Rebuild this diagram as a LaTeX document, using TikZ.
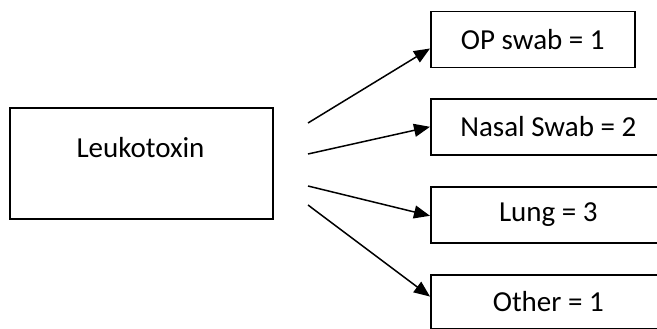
\documentclass[tikz,border=0pt]{standalone}
\usepackage{fontspec}
\setmainfont{Carlito}
\usetikzlibrary{arrows.meta}

\begin{document}
\begin{tikzpicture}[x=1pt,y=-1pt,
  box/.style={draw,line width=1.6pt,anchor=north west,inner sep=0pt,minimum height=56,font=\fontsize{29}{34}\selectfont},
  arr/.style={line width=1.5pt,-{Triangle[length=16pt,width=13pt]}}]
\clip (0,0) rectangle (657,329);
% source box
\node[box,minimum width=263,minimum height=111] (leuko) at (9,107) {};
\node[font=\fontsize{29}{34}\selectfont] (leukotxt) at (140.5,148) {Leukotoxin};
% sample boxes
\node[box,minimum width=204] (op) at (430,10.7) {OP swab = 1};
\node[box,minimum width=235] (nasal) at (430,98) {Nasal Swab = 2};
\node[box,minimum width=235] (lung) at (430,186) {Lung = 3};
\node[box,minimum width=235,minimum height=53.5] (other) at (430,274) {Other = 1};
% arrows
\coordinate (s1) at (308,123);
\coordinate (s2) at (308,154);
\coordinate (s3) at (308,186);
\coordinate (s4) at (308,205);
\draw[arr] (s1) -- ([yshift=-9pt]op.west);
\draw[arr] (s2) -- (nasal.west);
\draw[arr] (s3) -- ([yshift=-1pt]lung.west);
\draw[arr] (s4) -- ([yshift=5pt]other.west);
\end{tikzpicture}
\end{document}
